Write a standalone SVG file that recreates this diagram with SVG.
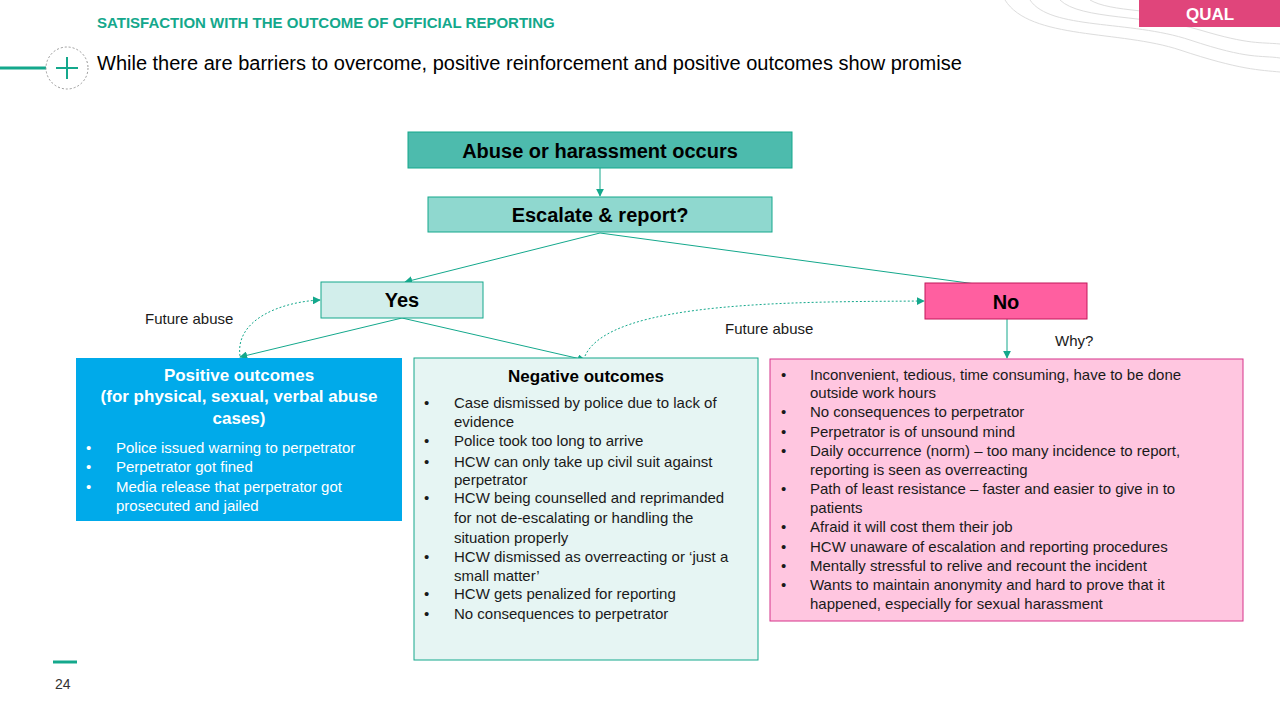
<svg xmlns="http://www.w3.org/2000/svg" width="1280" height="720" viewBox="0 0 1280 720">
<style>
.t{font-family:"Liberation Sans",Arial,sans-serif;}
.h{font-family:"Liberation Sans",Arial,sans-serif;font-weight:bold;font-size:20px;fill:#000;text-anchor:middle;}
.b{font-family:"Liberation Sans",Arial,sans-serif;font-size:15px;fill:#1a1a1a;}
.w{font-family:"Liberation Sans",Arial,sans-serif;font-size:15px;fill:#fff;}
.c{stroke:#14a88c;stroke-width:1;fill:none;}
.d{stroke:#14a88c;stroke-width:1;fill:none;stroke-dasharray:2 2;}
.deco{stroke:#ddd;fill:none;stroke-width:1;}
</style>
<defs>
<marker id="a" viewBox="0 0 10 10" refX="9" refY="5" markerWidth="8" markerHeight="8" orient="auto"><path d="M0,0 L10,5 L0,10 z" fill="#14a88c"/></marker>
</defs>
<rect width="1280" height="720" fill="#fff"/>
<g id="deco">
<path class="deco" d="M1005,0 C1030,40 1120,30 1180,50 S1260,70 1280,72"/>
<path class="deco" d="M1030,0 C1050,30 1130,20 1190,40 S1260,55 1280,58"/>
<path class="deco" d="M1060,0 C1080,20 1150,15 1200,30 S1260,42 1280,44"/>
<path class="deco" d="M1090,0 C1110,12 1160,10 1210,20"/>
</g>
<rect x="1139" y="0" width="141" height="27" fill="#e0457b"/>
<text x="1210" y="20" class="t" font-weight="bold" font-size="17" fill="#fff" text-anchor="middle">QUAL</text>
<text x="97" y="28" class="t" font-weight="bold" font-size="15" fill="#14a88c">SATISFACTION WITH THE OUTCOME OF OFFICIAL REPORTING</text>
<line x1="0" y1="68" x2="46" y2="68" stroke="#14a88c" stroke-width="3"/>
<circle cx="67" cy="68" r="21" fill="#fff" stroke="#999" stroke-dasharray="2 2"/>
<path d="M67,57 V79 M56,68 H78" stroke="#14a88c" stroke-width="2"/>
<text x="97" y="70" class="t" font-size="20" fill="#000">While there are barriers to overcome, positive reinforcement and positive outcomes show promise</text>
<line x1="53" y1="662" x2="77" y2="662" stroke="#14a88c" stroke-width="3"/>
<text x="55" y="689" class="t" font-size="14" fill="#333">24</text>

<g id="connectors">
<line class="c" x1="600" y1="168" x2="600" y2="196" marker-end="url(#a)"/>
<line class="c" x1="600" y1="233" x2="405" y2="282" marker-end="url(#a)"/>
<line class="c" x1="600" y1="233" x2="1005" y2="288" marker-end="url(#a)"/>
<line class="c" x1="402" y1="318" x2="240" y2="357" marker-end="url(#a)"/>
<line class="c" x1="402" y1="318" x2="585" y2="360" marker-end="url(#a)"/>
<line class="c" x1="1007" y1="319" x2="1007" y2="358" marker-end="url(#a)"/>
<path class="d" d="M240,356 C235,320 280,302 320,300" marker-end="url(#a)"/>
<path class="d" d="M585,356 C610,300 800,302 924,301" marker-end="url(#a)"/>
<text x="145" y="324" class="b" fill="#000">Future abuse</text>
<text x="725" y="334" class="b" fill="#000">Future abuse</text>
<text x="1055" y="346" class="b" fill="#000">Why?</text>
</g>

<g id="abuse"><rect x="408" y="132" width="384" height="36" fill="#4dbbad" stroke="#14a88c"/><text x="600" y="158" class="h">Abuse or harassment occurs</text></g>
<g id="escalate"><rect x="428" y="197" width="344" height="35" fill="#8fd8cf" stroke="#14a88c"/><text x="600" y="222" class="h">Escalate &amp; report?</text></g>
<g id="yes"><rect x="321" y="282" width="162" height="36" fill="#d2eeeb" stroke="#14a88c"/><text x="402" y="307" class="h">Yes</text></g>
<g id="no"><rect x="925" y="283" width="162" height="36" fill="#ff5fa0" stroke="#c2185b"/><text x="1006" y="309" class="h">No</text></g>

<g id="positive">
<rect x="76" y="358" width="326" height="163" fill="#00aaea"/>
<g class="t" font-weight="bold" font-size="17" fill="#fff" text-anchor="middle">
<text x="239" y="381">Positive outcomes</text>
<text x="239" y="402">(for physical, sexual, verbal abuse</text>
<text x="239" y="424">cases)</text>
</g>
<text x="86" y="453" class="w">•</text><text x="116" y="453" class="w">Police issued warning to perpetrator</text>
<text x="86" y="472" class="w">•</text><text x="116" y="472" class="w">Perpetrator got fined</text>
<text x="86" y="492" class="w">•</text><text x="116" y="492" class="w">Media release that perpetrator got</text>
<text x="116" y="511" class="w">prosecuted and jailed</text>
</g>

<g id="negative">
<rect x="414" y="358" width="344" height="302" fill="#e6f5f3" stroke="#14a88c"/>
<text x="586" y="382" class="t" font-weight="bold" font-size="17" fill="#000" text-anchor="middle">Negative outcomes</text>
<g class="b">
<text x="424" y="408">•</text><text x="454" y="408">Case dismissed by police due to lack of</text>
<text x="454" y="427">evidence</text>
<text x="424" y="446">•</text><text x="454" y="446">Police took too long to arrive</text>
<text x="424" y="467">•</text><text x="454" y="467">HCW can only take up civil suit against</text>
<text x="454" y="485">perpetrator</text>
<text x="424" y="503">•</text><text x="454" y="503">HCW being counselled and reprimanded</text>
<text x="454" y="523">for not de-escalating or handling the</text>
<text x="454" y="543">situation properly</text>
<text x="424" y="562">•</text><text x="454" y="562">HCW dismissed as overreacting or ‘just a</text>
<text x="454" y="581">small matter’</text>
<text x="424" y="599">•</text><text x="454" y="599">HCW gets penalized for reporting</text>
<text x="424" y="619">•</text><text x="454" y="619">No consequences to perpetrator</text>
</g>
</g>

<g id="why">
<rect x="770" y="359" width="473" height="262" fill="#ffc6e0" stroke="#d6338a"/>
<g class="b">
<text x="781" y="380">•</text><text x="810" y="380">Inconvenient, tedious, time consuming, have to be done</text>
<text x="810" y="398">outside work hours</text>
<text x="781" y="417">•</text><text x="810" y="417">No consequences to perpetrator</text>
<text x="781" y="437">•</text><text x="810" y="437">Perpetrator is of unsound mind</text>
<text x="781" y="456">•</text><text x="810" y="456">Daily occurrence (norm) – too many incidence to report,</text>
<text x="810" y="475">reporting is seen as overreacting</text>
<text x="781" y="494">•</text><text x="810" y="494">Path of least resistance – faster and easier to give in to</text>
<text x="810" y="513">patients</text>
<text x="781" y="532">•</text><text x="810" y="532">Afraid it will cost them their job</text>
<text x="781" y="552">•</text><text x="810" y="552">HCW unaware of escalation and reporting procedures</text>
<text x="781" y="571">•</text><text x="810" y="571">Mentally stressful to relive and recount the incident</text>
<text x="781" y="590">•</text><text x="810" y="590">Wants to maintain anonymity and hard to prove that it</text>
<text x="810" y="609">happened, especially for sexual harassment</text>
</g>
</g>
</svg>
